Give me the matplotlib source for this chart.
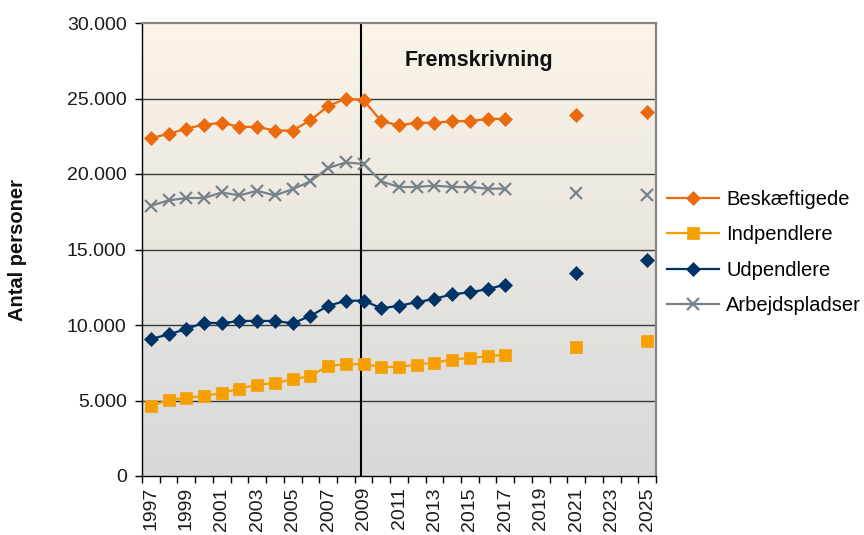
import numpy as np
import matplotlib
matplotlib.use("Agg")
import matplotlib.pyplot as plt
from matplotlib.ticker import FuncFormatter

plt.rcParams['font.family'] = ['Liberation Sans', 'DejaVu Sans']

# historiske aar og fremskrivning
years_hist = list(range(1997, 2018))
years_proj = [2021, 2025]

beskaeftigede = [22390, 22650, 23010, 23270, 23390, 23120, 23120, 22880, 22880,
                 23560, 24490, 25000, 24890, 23500, 23230, 23390, 23390, 23500,
                 23500, 23650, 23650]
beskaeftigede_proj = [23910, 24130]

indpendlere = [4620, 5040, 5180, 5290, 5510, 5780, 6040, 6160, 6400, 6620,
               7290, 7400, 7400, 7220, 7220, 7380, 7510, 7710, 7820, 7930, 8040]
indpendlere_proj = [8560, 8930]

udpendlere = [9070, 9380, 9730, 10160, 10110, 10270, 10270, 10270, 10110,
              10600, 11270, 11600, 11620, 11110, 11270, 11510, 11730, 12040,
              12160, 12380, 12670]
udpendlere_proj = [13470, 14330]

arbejdspladser = [17900, 18250, 18410, 18410, 18780, 18580, 18890, 18580,
                  19000, 19510, 20400, 20770, 20660, 19510, 19140, 19140,
                  19230, 19140, 19140, 19030, 19030]
arbejdspladser_proj = [18730, 18600]

series = [
    ('Beskæftigede', beskaeftigede, beskaeftigede_proj, '#EA6A0E', 'D', 7, 0.5),
    ('Indpendlere', indpendlere, indpendlere_proj, '#F5A000', 's', 8, 0.5),
    ('Udpendlere', udpendlere, udpendlere_proj, '#003366', 'D', 7, 0.5),
    ('Arbejdspladser', arbejdspladser, arbejdspladser_proj, '#78828A', 'x', 9, 1.6),
]

fig = plt.figure(figsize=(8.64, 5.35), dpi=100)
ax = fig.add_axes([142 / 864, 59 / 535, 514 / 864, 453 / 535])

x0, x1 = 1996.5, 2025.5
ax.set_xlim(x0, x1)
ax.set_ylim(0, 30000)

# baggrund med gradient
top = np.array([252, 244, 231]) / 255
bottom = np.array([214, 216, 218]) / 255
t = np.linspace(0, 1, 256)[:, None]
grad = (top * (1 - t) + bottom * t)[:, None, :]
ax.imshow(grad, extent=[x0, x1, 0, 30000], aspect='auto', zorder=0,
          interpolation='bilinear')

for y in range(5000, 30000, 5000):
    ax.axhline(y, color='#3a3a3a', lw=1.0, zorder=1)

ax.axvline(2008.85, color='black', lw=1.5, zorder=2)
ax.text(2015.5, 27500, 'Fremskrivning', ha='center', va='center',
        fontsize=15.5, fontweight='bold', color='#111111')

for name, hist, proj, col, mk, ms, mew in series:
    kw = dict(marker=mk, markersize=ms, markerfacecolor=col,
              markeredgecolor=col, markeredgewidth=mew)
    ax.plot(years_hist, hist, color=col, lw=1.6, label=name, zorder=3, **kw)
    ax.plot(years_proj, proj, ls='none', zorder=3, **kw)

ax.yaxis.set_major_formatter(FuncFormatter(lambda v, p: f'{int(v):,}'.replace(',', '.')))
ax.set_yticks(range(0, 30001, 5000))
ax.tick_params(axis='y', direction='out', length=5, width=1, pad=6,
               labelsize=14, labelcolor='#1a1a1a')

ax.set_xticks(list(range(1997, 2026, 2)))
ax.set_xticklabels([str(y) for y in range(1997, 2026, 2)], rotation=90)
ax.set_xticks(np.arange(1996.5, 2026, 1), minor=True)
ax.tick_params(axis='x', which='major', length=0, pad=8, labelsize=14,
               labelcolor='#1a1a1a')
ax.tick_params(axis='x', which='minor', direction='out', length=5, width=1)

for s in ['left', 'bottom']:
    ax.spines[s].set_color('black')
    ax.spines[s].set_linewidth(1.0)
for s in ['top', 'right']:
    ax.spines[s].set_color('#858585')
    ax.spines[s].set_linewidth(1.6)

fig.text(18 / 864, 1 - 250 / 535, 'Antal personer', rotation=90, ha='center',
         va='center', fontsize=14.5, fontweight='bold', color='#111111')

handles, labels = ax.get_legend_handles_labels()
fig.legend(handles, labels, loc='center left',
           bbox_to_anchor=(667 / 864, 1 - 252.5 / 535), frameon=False,
           fontsize=14.5, handlelength=2.6, handletextpad=0.35,
           labelspacing=0.8, borderpad=0, borderaxespad=0)

fig.savefig('out.png', dpi=100)
